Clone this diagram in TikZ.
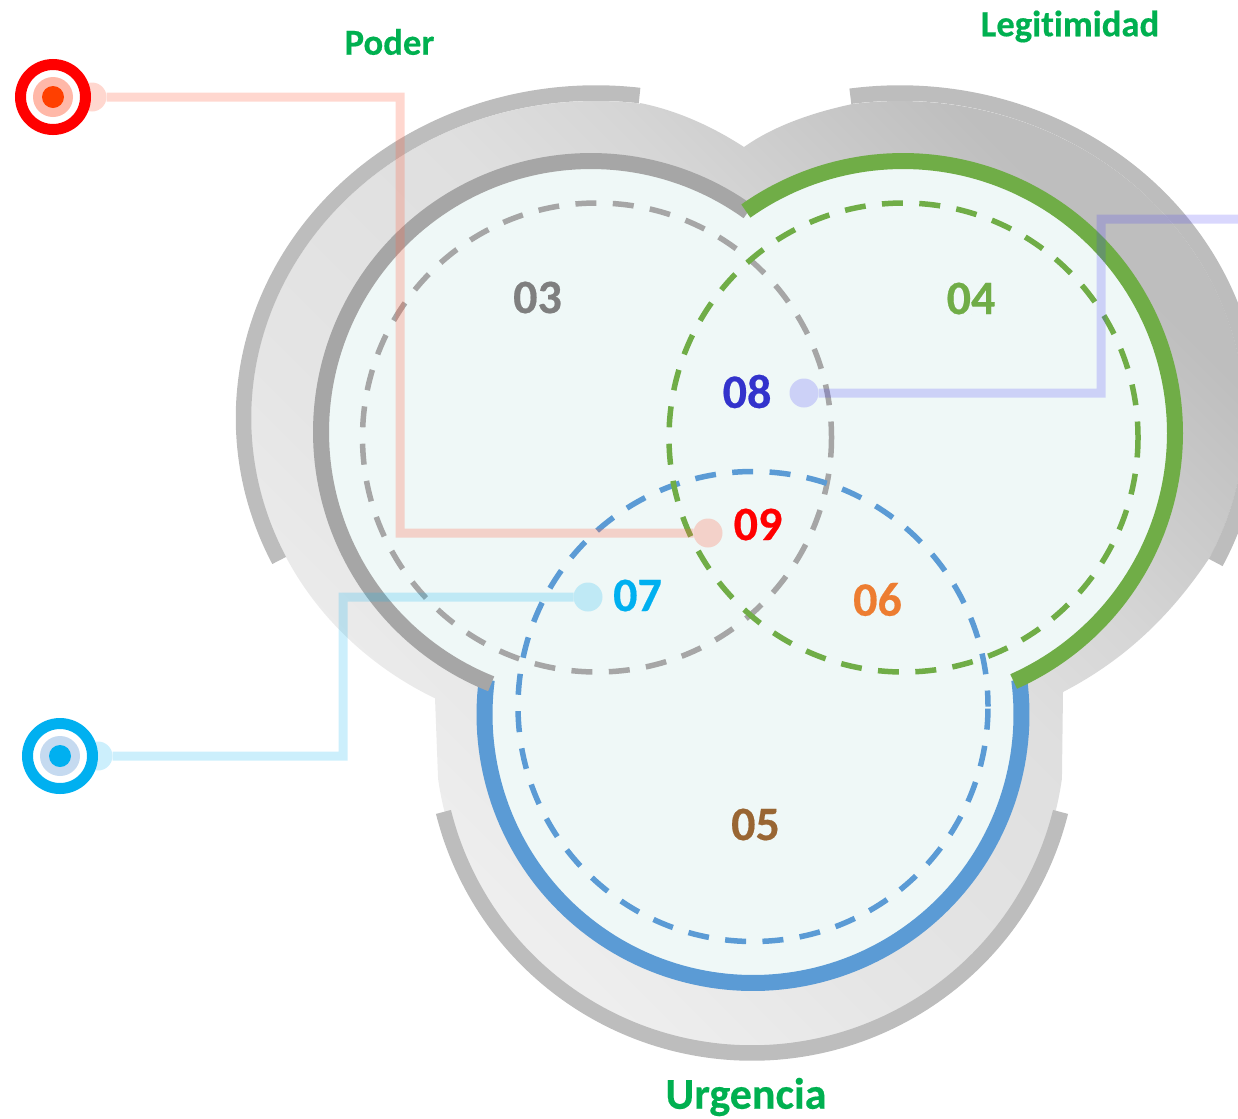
\documentclass[tikz,border=0pt]{standalone}
\usepackage{fontspec}
\setmainfont[Ligatures=NoCommon,BoldFeatures={FakeBold=0.4}]{Carlito}
\usetikzlibrary{shadings}
\def\pxu{0.75pt}
\definecolor{bandgrey}{HTML}{BDBDBD}
\definecolor{fillpale}{HTML}{EFF8F7}
\definecolor{ringgrey}{HTML}{A6A6A6}
\definecolor{ringgreen}{HTML}{70AD47}
\definecolor{ringblue}{HTML}{5B9BD5}
\definecolor{titlegreen}{HTML}{00B050}
\definecolor{labblue}{HTML}{00B0F0}
\definecolor{labpurple}{HTML}{3333CC}
\definecolor{labbrown}{HTML}{996633}
\definecolor{laborange}{HTML}{ED7D31}
\definecolor{labgrey}{HTML}{7F7F7F}
\definecolor{conred}{HTML}{FF6040}
\definecolor{conpurple}{HTML}{4137F7}
\definecolor{palered}{HTML}{FFB8A8}
\definecolor{coreorange}{HTML}{FF4000}
\definecolor{paleblue}{HTML}{C5DAF0}
\definecolor{glowa}{HTML}{EEEEEE}
\definecolor{glowb}{HTML}{E5E5E5}
\definecolor{glowc}{HTML}{DFDFDF}
\definecolor{glowd}{HTML}{D6D6D6}
\definecolor{glowe}{HTML}{BEBEBE}
\pgfdeclareverticalshading{bodyglow}{100bp}{color(0bp)=(glowa); color(29bp)=(glowa); color(40bp)=(glowb); color(55bp)=(glowc); color(62bp)=(glowd); color(75bp)=(glowe); color(100bp)=(glowe)}
\tikzset{
  x=0.75pt,y=-0.75pt,
  band/.style={draw=bandgrey,line width=15.5*\pxu},
  ring/.style={line width=16*\pxu},
  dashring/.style={line width=5.5*\pxu,dash pattern=on 21*\pxu off 16.4*\pxu,dash phase=5*\pxu},
  conline/.style={line width=9*\pxu},
  enddot/.style={circle,inner sep=0pt,outer sep=0pt,minimum size=29*\pxu},
  num/.style={font=\fontsize{36}{36}\selectfont\bfseries,inner sep=0pt},
  titletext/.style={text=titlegreen,inner sep=0pt},
  targetring/.style={circle,inner sep=0pt,outer sep=0pt,fill=white,line width=11*\pxu,minimum size=65*\pxu},
  targetpale/.style={circle,inner sep=0pt,outer sep=0pt,minimum size=40*\pxu},
  targetcore/.style={circle,inner sep=0pt,outer sep=0pt,minimum size=22*\pxu},
}
\begin{document}
\begin{tikzpicture}
\useasboundingbox (0,0) rectangle (1238,1118);
\clip (0,0) rectangle (1238,1118);
% outer grey body
\shade[shading=bodyglow,shading angle=-45]
  (744,147) .. controls (710,125) and (675,110) .. (640,103)
  -- plot[domain=-82.6:-242.1,samples=120,variable=\t] ({596+345*cos(\t)},{418+317*sin(\t)})
  -- (435,698)
  -- plot[domain=172:8,samples=100,variable=\t] ({750+315*cos(\t)},{735+315*sin(\t)})
  -- (1063,692) .. controls (1115,665) and (1165,625) .. (1210,557)
  -- plot[domain=26:-98,samples=120,variable=\t] ({900+345*cos(\t)},{418+317*sin(\t)})
  .. controls (815,112) and (775,125) .. (744,147) -- cycle;
% bands
\draw[band] plot[domain=-82.9:-206,samples=120,variable=\t] ({596+352.5*cos(\t)},{418+325*sin(\t)});
\draw[band] plot[domain=-98.1:26.4,samples=120,variable=\t] ({900+352.5*cos(\t)},{418+325*sin(\t)});
\draw[band] plot[domain=14:166,samples=120,variable=\t] ({752+318*cos(\t)},{735+318*sin(\t)});
% pale interior
\fill[fillpale] (591,432) circle[radius=270*\pxu];
\fill[fillpale] (903,433) circle[radius=272*\pxu];
\fill[fillpale] (753,714.5) circle[radius=268.5*\pxu];
% thick rings
\draw[ring,draw=ringblue] plot[domain=-7.4:187.4,samples=120,variable=\t] ({753+268.5*cos(\t)},{714.5+268.5*sin(\t)});
\draw[ring,draw=ringgrey] plot[domain=-54.4:-248.3,samples=120,variable=\t] ({591+270*cos(\t)},{432+271*sin(\t)});
\draw[ring,draw=ringgreen] plot[domain=-125.3:66,samples=120,variable=\t] ({903+272*cos(\t)},{433+272*sin(\t)});
% dashed circles
\draw[dashring,draw=ringgrey] (597,437.5) circle[radius=234.5*\pxu];
\draw[dashring,draw=ringblue] (753,706.5) circle[radius=235*\pxu];
\draw[dashring,draw=ringgreen] (903.5,437.5) circle[radius=234.5*\pxu];
% connectors
\begin{scope}[transparency group,opacity=.25]
  \node[enddot,fill=conred] (redstart) at (92,97) {};
  \node[enddot,fill=conred] (redend) at (708,533) {};
  \coordinate (redA) at (400,97);
  \coordinate (redB) at (400,533);
  \draw[conline,draw=conred] (redstart) -- (redA) -- (redB) -- (redend);
\end{scope}
\begin{scope}[transparency group,opacity=.2]
  \node[enddot,fill=labblue] (bluestart) at (98,756) {};
  \node[enddot,fill=labblue] (blueend) at (588,597) {};
  \coordinate (blueA) at (343,756);
  \coordinate (blueB) at (343,597);
  \draw[conline,draw=labblue] (bluestart) -- (blueA) -- (blueB) -- (blueend);
\end{scope}
\begin{scope}[transparency group,opacity=.2]
  \node[enddot,fill=conpurple] (purpleend) at (804,393) {};
  \coordinate (purpleA) at (1101,393);
  \coordinate (purpleB) at (1101,219);
  \coordinate (purpleC) at (1240,219);
  \draw[conline,draw=conpurple] (purpleend) -- (purpleA) -- (purpleB) -- (purpleC);
\end{scope}
% targets
\node[targetring,draw=red] (redtarget) at (53,97) {};
\node[targetpale,fill=palered] (redpale) at (53,97) {};
\node[targetcore,fill=coreorange] (redcore) at (53,97) {};
\node[targetring,draw=labblue] (bluetarget) at (60,756) {};
\node[targetpale,fill=paleblue] (bluepale) at (60,756) {};
\node[targetcore,fill=labblue] (bluecore) at (60,756) {};
% labels
\node[num,text=labgrey] (n03) at (537.5,297.5) {03};
\node[num,text=ringgreen] (n04) at (971,298.5) {04};
\node[num,text=labbrown] (n05) at (755.5,824.5) {05};
\node[num,text=laborange] (n06) at (877.5,599.5) {06};
\node[num,text=labblue] (n07) at (637.5,595.5) {07};
\node[num,text=labpurple] (n08) at (747,391.5) {08};
\node[num,text=red] (n09) at (758,524.5) {09};
\node[titletext,font=\fontsize{27.5}{27.5}\selectfont\bfseries] (poder) at (389.5,42) {Poder};
\node[titletext,font=\fontsize{27.5}{27.5}\selectfont\bfseries] (legit) at (1070,26.5) {Legitimidad};
\node[titletext,font=\fontsize{33}{33}\selectfont\bfseries] (urg) at (746,1097) {Urgencia};
\end{tikzpicture}
\end{document}
